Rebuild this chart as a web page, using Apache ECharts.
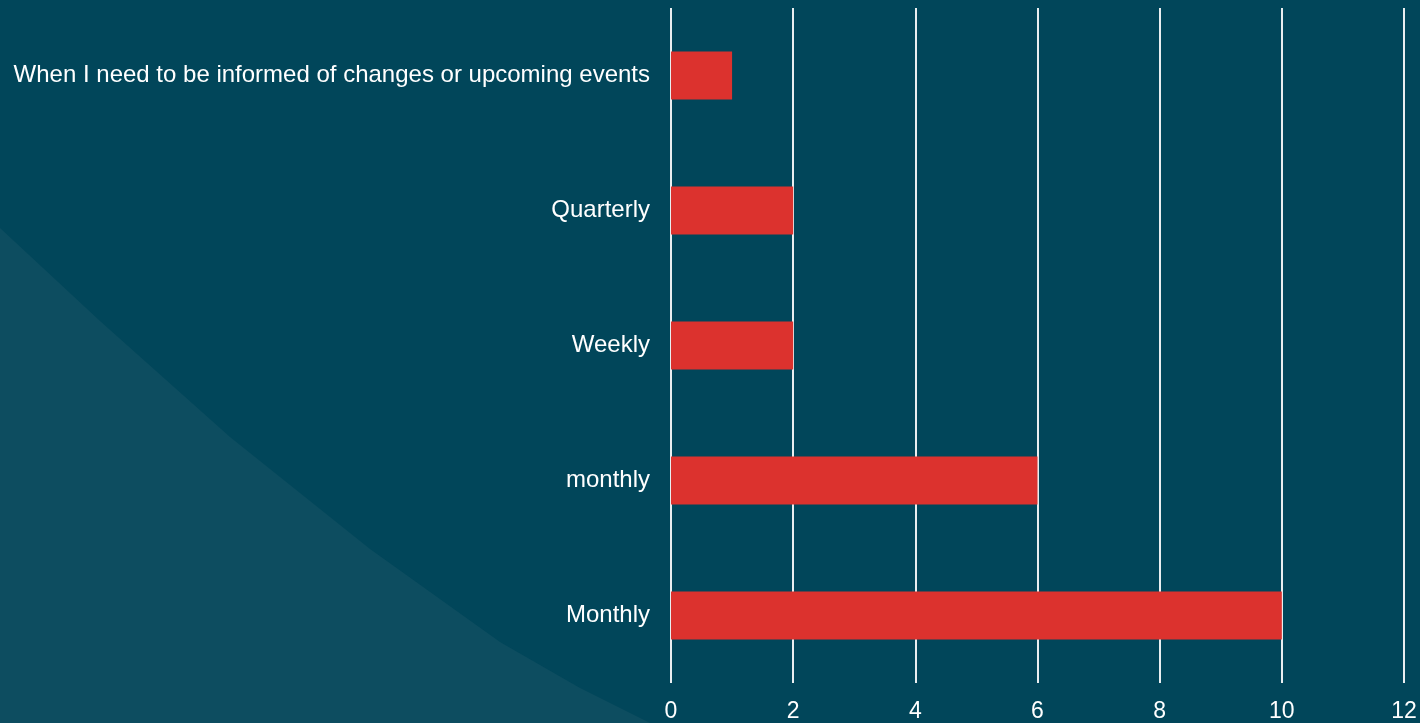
<!DOCTYPE html>
<html lang="en">

<head>
  <meta charset="UTF-8">
  <title>Document</title>
  <style>
    html, body { margin: 0; padding: 0; background: #01465a; }
  </style>
</head>

<body>
  <div id="main" style="width: 1420px;height:723px;"></div>

  <script src="https://cdn.jsdelivr.net/npm/echarts@6/dist/echarts.min.js"></script>
  <script>

  // 数据
  const categories = [
    'When I need to be informed of changes or upcoming events',
    'Quarterly',
    'Weekly',
    'monthly',
    'Monthly'
  ];
  const counts = [1, 2, 2, 6, 10];

  // 左下角装饰形状
  const cornerShape = [[0, 228], [100, 321], [230, 437], [370, 549], [500, 642], [580, 688], [650, 723], [0, 723]];

  let myChart = echarts.init(document.getElementById('main'));
  let option = {
    backgroundColor: '#01465a',
    textStyle: { fontFamily: 'Liberation Sans, Arial, sans-serif' },
    graphic: [{
      type: 'polygon',
      z: -10,
      silent: true,
      shape: { points: cornerShape },
      style: { fill: '#0d4d60' }
    }],
    grid: { left: 671, right: 16, top: 8, bottom: 39 },
    xAxis: {
      type: 'value',
      min: 0,
      max: 12,
      interval: 2,
      axisLine: { show: false },
      axisTick: { show: false },
      axisLabel: { color: '#ffffff', fontSize: 23, margin: 17 },
      splitLine: { show: true, lineStyle: { color: '#e9eef0', width: 2 } }
    },
    yAxis: {
      type: 'category',
      inverse: true,
      data: categories,
      axisLine: { show: false },
      axisTick: { show: false },
      axisLabel: { color: '#ffffff', fontSize: 24, margin: 21, padding: [6, 0, 0, 0] }
    },
    series: [{
      type: 'bar',
      data: counts,
      barWidth: 48,
      itemStyle: { color: '#dc322e' }
    }]
  };

  myChart.setOption(option);
  </script>
</body>

</html>
